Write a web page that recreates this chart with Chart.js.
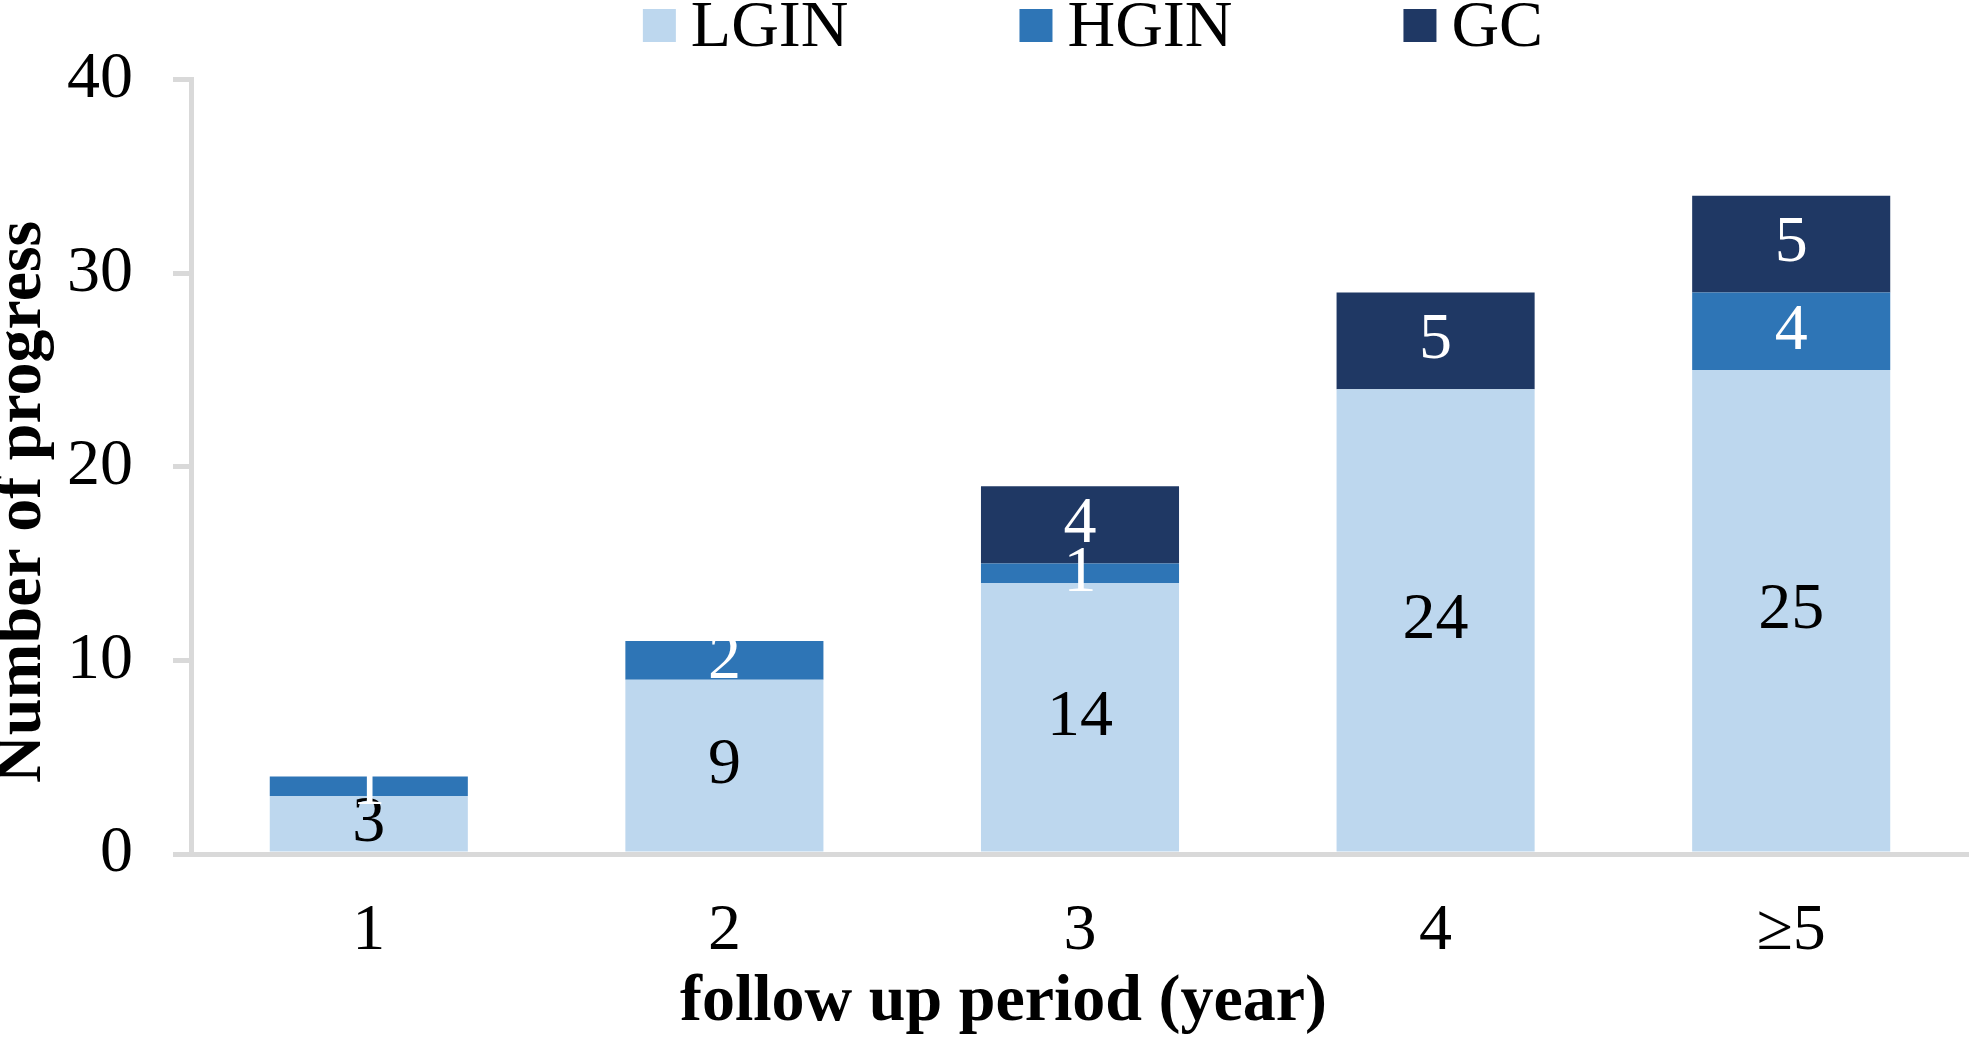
<!DOCTYPE html>
<html>
<head>
<meta charset="utf-8">
<title>Number of progress by follow up period</title>
<script src="https://cdn.jsdelivr.net/npm/chart.js@4.4.1/dist/chart.umd.min.js"></script>
<style>
  html, body { margin: 0; padding: 0; background: #fff; }
  #wrap { position: relative; width: 1969px; height: 1037px; }
</style>
</head>
<body>
<div id="wrap"><canvas id="progChart"></canvas></div>
<script>
// data
const periods    = ['1', '2', '3', '4', '\u22655'];
const lginCounts = [3, 9, 14, 24, 25];
const hginCounts = [1, 2, 1, 0, 4];
const gcCounts   = [0, 0, 4, 5, 5];
const yMax = 40;
const yStep = 10;

const serif = "'Liberation Serif', 'Times New Roman', Times, serif";
const axisGrey = '#d9d9d9';
const fontSize = 66;

// value labels in the middle of each segment
const segmentLabels = {
  id: 'segmentLabels',
  afterDatasetsDraw(chart) {
    const ctx = chart.ctx;
    ctx.save();
    ctx.font = `${fontSize}px ${serif}`;
    ctx.textAlign = 'center';
    ctx.textBaseline = 'middle';
    chart.data.datasets.forEach((ds, i) => {
      const meta = chart.getDatasetMeta(i);
      ctx.fillStyle = ds.labelColor;
      meta.data.forEach((bar, j) => {
        const v = ds.data[j];
        if (!v) return;
        ctx.fillText(String(v), bar.x, (bar.y + bar.base) / 2);
      });
    });
    ctx.restore();
  }
};

// legend row on top (box, small gap, text, wide gap)
const topLegend = {
  id: 'topLegend',
  afterDraw(chart) {
    const ctx = chart.ctx;
    const box = 33, gap = 15, spacing = 171;
    ctx.save();
    ctx.font = `${fontSize}px ${serif}`;
    ctx.textBaseline = 'alphabetic';
    ctx.textAlign = 'left';
    const items = chart.data.datasets.map(ds => ({
      text: ds.label, color: ds.backgroundColor, w: ctx.measureText(ds.label).width
    }));
    let total = 0;
    items.forEach((it, i) => { total += box + gap + it.w + (i ? spacing : 0); });
    const area = chart.chartArea;
    let x = area.left + (area.right - area.left - total) / 2 + 13;
    items.forEach(it => {
      ctx.fillStyle = it.color;
      ctx.fillRect(x, 9, box, box);
      ctx.fillStyle = '#000';
      ctx.fillText(it.text, x + box + gap, 46);
      x += box + gap + it.w + spacing;
    });
    ctx.restore();
  }
};

// nudge the two axis titles a bit off-centre, like the original
const titleNudge = {
  id: 'titleNudge',
  afterLayout(chart) {
    chart.boxes.forEach(b => {
      if (!b.options || b.options.text === undefined || b.isHorizontal === undefined) return;
      if (b.position === 'left') { b.top += 35; b.bottom += 35; }
      if (b.position === 'bottom') { b.left += 38; }
    });
  }
};

const progCtx = document.getElementById('progChart').getContext('2d');

const progChart = new Chart(progCtx, {
  type: 'bar',
  data: {
    labels: periods,
    datasets: [{
      label: 'LGIN',
      data: lginCounts,
      backgroundColor: '#bdd7ee',
      labelColor: '#000'
    }, {
      label: 'HGIN',
      data: hginCounts,
      backgroundColor: '#2e75b6',
      labelColor: '#fff'
    }, {
      label: 'GC',
      data: gcCounts,
      backgroundColor: '#1f3864',
      labelColor: '#fff'
    }]
  },
  options: {
    responsive: true,
    maintainAspectRatio: false,
    animation: false,
    devicePixelRatio: 1,
    layout: { padding: { top: 78, right: 0, left: 0, bottom: 0 } },
    datasets: {
      bar: { categoryPercentage: 1, barPercentage: 0.557, borderWidth: 0 }
    },
    scales: {
      x: {
        stacked: true,
        grid: { display: false },
        border: { display: true, color: axisGrey, width: 5 },
        ticks: {
          color: '#000',
          padding: 30,
          font: { family: serif, size: fontSize, lineHeight: 1.2 }
        },
        // chart.js counts the tick padding twice, keep the box tight
        afterFit(scale) { scale.height = 115; }
      },
      y: {
        stacked: true,
        min: 0,
        max: yMax,
        grid: {
          drawOnChartArea: false,
          drawTicks: true,
          tickLength: 18,
          color: axisGrey,
          lineWidth: 5
        },
        border: { display: true, color: axisGrey, width: 5 },
        ticks: {
          stepSize: yStep,
          color: '#000',
          padding: 40,
          font: { family: serif, size: fontSize, lineHeight: 1.2 }
        },
        afterFit(scale) { scale.width = 124; }
      }
    },
    plugins: {
      legend: { display: false },
      tooltip: { enabled: false },
      // y axis title
      title: {
        display: true,
        position: 'left',
        fullSize: false,
        text: 'Number of progress',
        color: '#000',
        padding: { top: 0, bottom: 20.8 },
        font: { family: serif, size: fontSize, weight: 'bold', lineHeight: 0.7 }
      },
      // x axis title
      subtitle: {
        display: true,
        position: 'bottom',
        text: 'follow up period (year)',
        color: '#000',
        padding: { top: 1, bottom: 1 },
        font: { family: serif, size: fontSize, weight: 'bold', lineHeight: 1.0 }
      }
    }
  },
  plugins: [segmentLabels, topLegend, titleNudge]
});
</script>
</body>
</html>
